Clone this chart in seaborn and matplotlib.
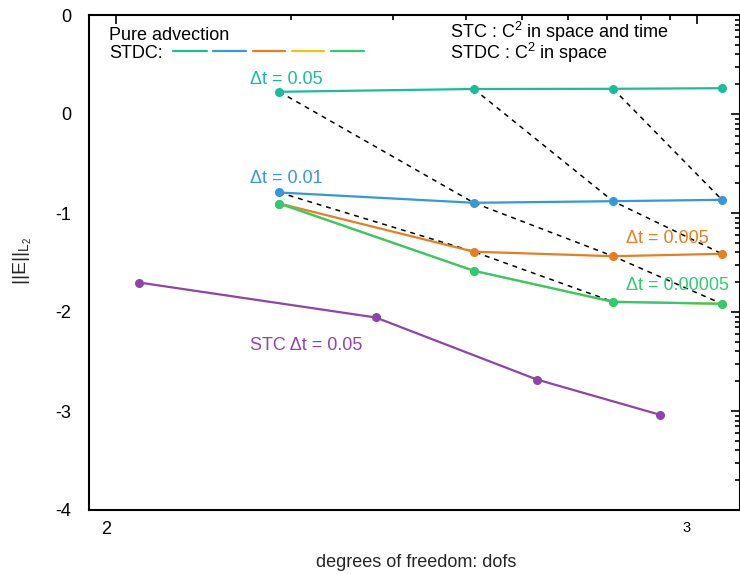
import numpy as np
import pandas as pd
import matplotlib
matplotlib.use("Agg")
import matplotlib.pyplot as plt
import seaborn as sns
from matplotlib.ticker import FixedLocator, FixedFormatter, NullFormatter
from matplotlib.transforms import ScaledTranslation

# ---------------- data ----------------
dofs = [191, 413, 717, 1104]
err_dt_05 = [1.676, 1.789, 1.797, 1.822]
err_dt_01 = [0.1611, 0.1268, 0.1316, 0.1359]
err_dt_005 = [0.1247, 0.04064, 0.03661, 0.03871]
err_dt_0005 = [0.1247, 0.02608, 0.01268, 0.01210]   # hidden under the green series
err_dt_00005 = [0.1247, 0.02608, 0.01268, 0.01210]

stc_dofs = [109.5, 280, 530, 864]
stc_err = [0.01986, 0.00880, 0.00208, 0.000915]

series_names = ["dt=0.05", "dt=0.01", "dt=0.005", "dt=0.0005", "dt=0.00005"]
series_vals = [err_dt_05, err_dt_01, err_dt_005, err_dt_0005, err_dt_00005]
series_colors = ["#1abc9c", "#3498db", "#e67e22", "#f1c40f", "#2ecc71"]
stc_color = "#8e44ad"

ytick_vals = [1e-4, 1e-3, 1e-2, 1e-1, 1e0, 1e1]
ytick_labels = ["-4", "-3", "-2", "-1", "0", "0"]
xtick_vals = [100, 1000]
xtick_labels = ["2", "3"]

# dashed diagonals: (series index, point index) chains
diagonals = [
    [(0, 0), (1, 1), (2, 2), (4, 3)],
    [(0, 1), (1, 2), (2, 3)],
    [(0, 2), (1, 3)],
    [(1, 0), (2, 1), (4, 2)],
]

# ---------------- style ----------------
sns.set_style("white")
plt.rcParams["font.family"] = ["Liberation Sans", "DejaVu Sans"]
plt.rcParams["mathtext.fontset"] = "custom"
plt.rcParams["mathtext.rm"] = "Liberation Sans"
plt.rcParams["mathtext.it"] = "Liberation Sans:italic"
plt.rcParams["mathtext.bf"] = "Liberation Sans:bold"

FS = 13

fig = plt.figure(figsize=(7.4, 5.74), dpi=100)
ax = fig.add_axes([89 / 740, 64 / 574, 651 / 740, 495 / 574])

rows = []
for name, vals in zip(series_names, series_vals):
    for d, e in zip(dofs, vals):
        rows.append({"dofs": d, "err": e, "series": name})
df = pd.DataFrame(rows)
stc_df = pd.DataFrame({"dofs": stc_dofs, "err": stc_err})

ax.set_xscale("log")
ax.set_yscale("log")

# dashed diagonals
for chain in diagonals:
    xs = [dofs[j] for i, j in chain]
    ys = [series_vals[i][j] for i, j in chain]
    ax.plot(xs, ys, color="black", lw=1.1, ls=(0, (3.2, 3.2)), zorder=1)

sns.lineplot(data=df, x="dofs", y="err", hue="series", hue_order=series_names,
             palette=series_colors, marker="o", markersize=6.5, markeredgewidth=0,
             lw=1.6, estimator=None, sort=False, legend=False, ax=ax, zorder=3)
sns.lineplot(data=stc_df, x="dofs", y="err", color=stc_color, marker="o",
             markersize=6.5, markeredgewidth=0, lw=1.6, estimator=None,
             sort=False, legend=False, ax=ax, zorder=3)

ax.set_xlim(10 ** (2 + (89 - 116) / 581), 10 ** (2 + (740 - 116) / 581))
ax.set_ylim(1e-4, 10)

ax.yaxis.set_major_locator(FixedLocator(ytick_vals))
ax.yaxis.set_major_formatter(FixedFormatter(ytick_labels))
ax.xaxis.set_major_locator(FixedLocator(xtick_vals))
ax.xaxis.set_major_formatter(FixedFormatter(xtick_labels))
ax.xaxis.set_minor_locator(FixedLocator([200, 300, 400, 500, 600, 700, 800, 900]))
ax.xaxis.set_minor_formatter(NullFormatter())
ax.yaxis.set_minor_formatter(NullFormatter())

for s in ax.spines.values():
    s.set_linewidth(1.5)
    s.set_color("black")
    s.set_visible(True)

ax.tick_params(which="both", direction="in", top=True, right=True, width=1.2,
               colors="black", labelsize=FS)
ax.tick_params(which="major", length=6.5)
ax.tick_params(which="minor", length=3.5)
ax.tick_params(axis="y", pad=13)
ax.tick_params(axis="x", pad=8)

ax.set_xlabel("degrees of freedom: dofs", fontsize=FS)
ax.set_ylabel(r"||E||$_{\mathrm{L}_{\mathrm{2}}}$", fontsize=14)
ax.xaxis.set_label_coords((416 - 89) / 651, (510 - 554) / 495)
ax.yaxis.set_label_coords((34 - 89) / 651, (510 - 261) / 495)

# shift x tick labels left, make "3" smaller
fig.canvas.draw()
off = ScaledTranslation(-10 / 100, 0, fig.dpi_scale_trans)
for k, t in enumerate(ax.xaxis.get_major_ticks()):
    t.label1.set_transform(t.label1.get_transform() + off)
    if k == 1:
        t.label1.set_fontsize(10.5)


def axfrac(px, py):
    return (px - 89) / 651, (510 - py) / 495


def label(px, py, s, color, size=FS, va="baseline", ls=1.2):
    x, y = axfrac(px, py)
    return ax.text(x, y, s, transform=ax.transAxes, color=color, fontsize=size,
                   ha="left", va=va, linespacing=ls)


label(250, 84.3, "Δt = 0.05", series_colors[0])
label(250, 182.7, "Δt = 0.01", series_colors[1])
label(625.5, 243.3, "Δt = 0.005", series_colors[2])
label(625.5, 290, "Δt = 0.00005", series_colors[4])
label(250.5, 350, "STC Δt = 0.05", stc_color)

label(109, 40, "Pure advection", "black")
label(109, 58.3, "STDC:", "black")
label(450, 19.5, "STC : C$^{2}$ in space and time\nSTDC : C$^{2}$ in space",
      "black", va="top", ls=0.84)

seg_x = [(173, 207), (213, 246), (253, 285), (292, 324), (331, 364)]
for (x0, x1), c in zip(seg_x, series_colors):
    a0, b0 = axfrac(x0, 51)
    a1, _ = axfrac(x1, 51)
    ax.plot([a0, a1], [b0, b0], transform=ax.transAxes, color=c, lw=1.6,
            clip_on=False)

fig.savefig("out.png", dpi=100)
